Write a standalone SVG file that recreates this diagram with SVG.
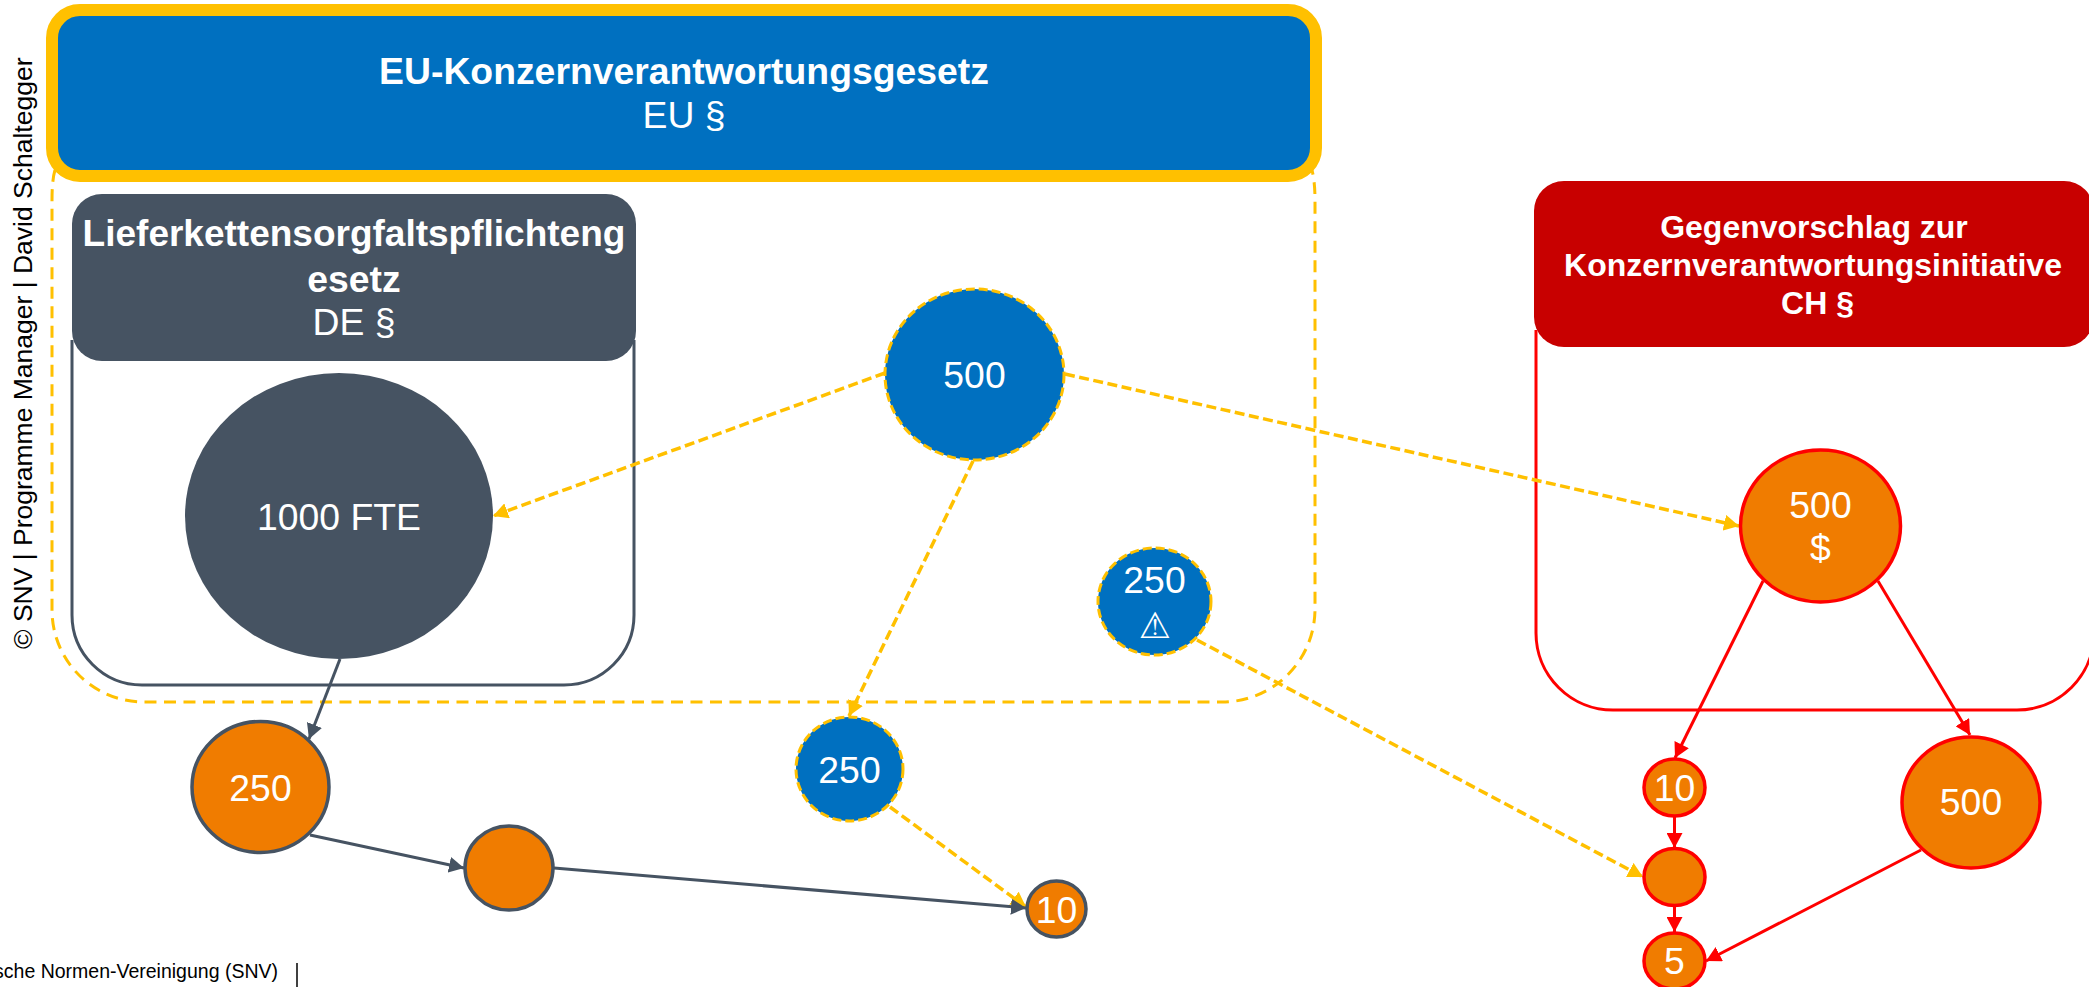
<svg xmlns="http://www.w3.org/2000/svg" width="2089" height="987" viewBox="0 0 2089 987">
<style>
text{font-family:"Liberation Sans",Arial,sans-serif;fill:#fff;text-anchor:middle;font-size:37.33px}
.b{font-weight:700}
.c{font-size:32px}
.k{fill:#000}
.ln{fill:none}
.f{stroke:#ffc000;stroke-width:3;stroke-dasharray:12 7.5}
.y{stroke:#ffc000;stroke-width:3.5;stroke-dasharray:10 4.5}
.g{stroke:#465362;stroke-width:3}
.r{stroke:#ff0000;stroke-width:3}
.og{fill:#f07c00;stroke:#465362;stroke-width:3.5}
.or{fill:#f07c00;stroke:#ff0000;stroke-width:3.5}
.bl{fill:#0070c0;stroke:#ffc000;stroke-width:3;stroke-dasharray:9 4}
</style>
<defs>
<marker id="ay" markerUnits="userSpaceOnUse" markerWidth="16" markerHeight="16" refX="15" refY="8" orient="auto"><path d="M0 0L15 8L0 16Z" fill="#ffc000"/></marker>
<marker id="ag" markerUnits="userSpaceOnUse" markerWidth="16" markerHeight="16" refX="15" refY="8" orient="auto"><path d="M0 0L15 8L0 16Z" fill="#465362"/></marker>
<marker id="ar" markerUnits="userSpaceOnUse" markerWidth="16" markerHeight="16" refX="15" refY="8" orient="auto"><path d="M0 0L15 8L0 16Z" fill="#ff0000"/></marker>
</defs>
<g id="frames">
<path class="ln f" d="M55 170Q52 180 52 200V610A92 92 0 0 0 144 702H1222A93 93 0 0 0 1315 609V200Q1315 182 1312 170"/>
<path class="ln g" d="M72 340V615A70 70 0 0 0 142 685H564A70 70 0 0 0 634 615V340"/>
<path class="ln r" d="M1536 330V633A77 77 0 0 0 1613 710H2017A77 77 0 0 0 2094 633V330"/>
</g>
<g id="copyright"><text class="k" transform="translate(32 649) rotate(-90)" style="text-anchor:start;font-size:26.5px">© SNV | Programme Manager | David Schaltegger</text></g>
<g id="footer"><text class="k" x="278" y="978" style="text-anchor:end;font-size:19.5px">sche Normen-Vereinigung (SNV)</text><path d="M297 963V987" stroke="#000" stroke-width="1.5"/></g>
<g id="eu"><rect x="52" y="10" width="1264" height="166" rx="28" fill="#0070c0" stroke="#ffc000" stroke-width="12"/>
<text class="b" x="684" y="84">EU-Konzernverantwortungsgesetz</text><text x="684" y="128">EU §</text></g>
<g id="de"><rect x="72" y="194" width="564" height="167" rx="30" fill="#465362"/>
<text class="b" style="font-size:37px" x="354" y="246">Lieferkettensorgfaltspflichteng</text><text class="b" x="354" y="292">esetz</text><text x="354" y="335">DE §</text></g>
<g id="ch"><rect x="1534" y="181" width="560" height="166" rx="30" fill="#c80000"/>
<text class="b c" x="1814" y="238">Gegenvorschlag zur</text><text class="b c" x="1813" y="276">Konzernverantwortungsinitiative</text><text class="b c" x="1817.5" y="314">CH §</text></g>
<g id="connectors">
<path class="ln y" marker-end="url(#ay)" d="M885 373L493 516"/>
<path class="ln y" marker-end="url(#ay)" d="M973 461L849 716"/>
<path class="ln y" marker-end="url(#ay)" d="M1065 374L1739 526"/>
<path class="ln y" marker-end="url(#ay)" d="M1197 640L1643 877"/>
<path class="ln y" marker-end="url(#ay)" d="M890 807L1026 907"/>
<path class="ln g" marker-end="url(#ag)" d="M340 659L309 739"/>
<path class="ln g" marker-end="url(#ag)" d="M310 835L464 868"/>
<path class="ln g" marker-end="url(#ag)" d="M554 868L1026 908"/>
<path class="ln r" marker-end="url(#ar)" d="M1763 581L1675 758"/>
<path class="ln r" marker-end="url(#ar)" d="M1878 581L1970 735"/>
<path class="ln r" marker-end="url(#ar)" d="M1674.5 817V848"/>
<path class="ln r" marker-end="url(#ar)" d="M1674.5 906V932"/>
<path class="ln r" marker-end="url(#ar)" d="M1921 850L1706 961"/>
</g>
<g id="n1000"><ellipse cx="339" cy="516" rx="154" ry="143" fill="#465362"/><text x="339" y="530">1000 FTE</text></g>
<g id="n250a"><ellipse class="og" cx="260.5" cy="787" rx="68.5" ry="65.5"/><text x="260.5" y="801">250</text></g>
<g id="nblankg"><ellipse class="og" cx="509" cy="868" rx="44" ry="42"/></g>
<g id="n10g"><ellipse class="og" cx="1056.5" cy="909" rx="29.5" ry="28"/><text x="1056.5" y="923">10</text></g>
<g id="n500b"><ellipse class="bl" cx="974.5" cy="374.5" rx="89.5" ry="85.5"/><text x="974.5" y="388">500</text></g>
<g id="n250b"><ellipse class="bl" cx="849.5" cy="769" rx="53.5" ry="52"/><text x="849.5" y="783">250</text></g>
<g id="n250w"><ellipse class="bl" cx="1154.5" cy="601.5" rx="56.5" ry="53.5"/><text x="1154.5" y="593">250</text><text x="1155" y="638" style="font-family:'DejaVu Sans',sans-serif;font-size:36px">⚠</text></g>
<g id="n500d"><ellipse class="or" cx="1820.5" cy="526" rx="80" ry="76"/><text x="1820.5" y="518">500</text><text x="1820.5" y="561">$</text></g>
<g id="n10r"><ellipse class="or" cx="1674.5" cy="787.5" rx="30.5" ry="28.5"/><text x="1674.5" y="801">10</text></g>
<g id="nblankr"><ellipse class="or" cx="1674.5" cy="877" rx="30.5" ry="28.5"/></g>
<g id="n5"><ellipse class="or" cx="1674.5" cy="961" rx="30.5" ry="28"/><text x="1674.5" y="974">5</text></g>
<g id="n500r"><ellipse class="or" cx="1971" cy="802.5" rx="69" ry="65.5"/><text x="1971" y="815">500</text></g>
</svg>
